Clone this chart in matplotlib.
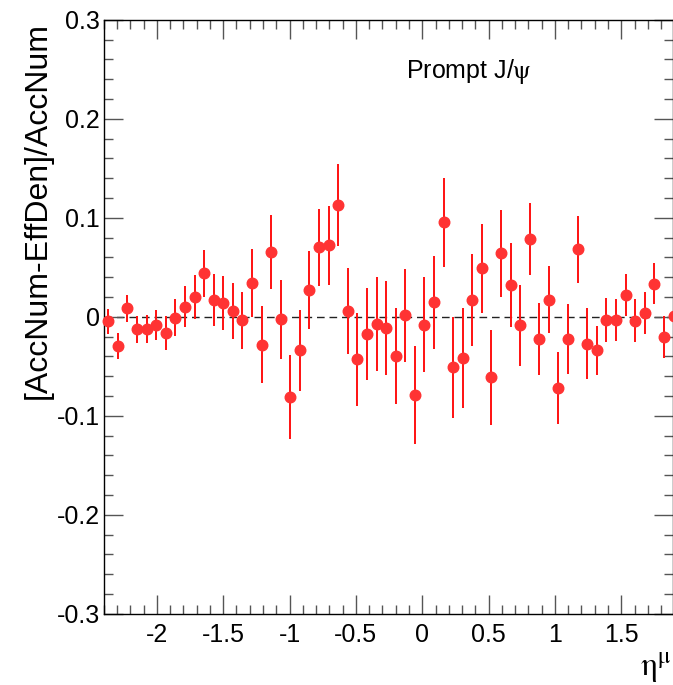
import matplotlib
matplotlib.use('Agg')
import matplotlib.pyplot as plt
from matplotlib.ticker import MultipleLocator, FuncFormatter

plt.rcParams['font.family'] = ['Liberation Sans', 'DejaVu Sans']
plt.rcParams['mathtext.fontset'] = 'stix'
plt.rcParams['axes.unicode_minus'] = False

# eta bin centres
eta = [-2.366, -2.294, -2.222, -2.149, -2.077, -2.005, -1.933, -1.861, -1.788, -1.716,
       -1.644, -1.572, -1.500, -1.427, -1.355, -1.283, -1.211, -1.139, -1.066, -0.994,
       -0.922, -0.850, -0.778, -0.705, -0.633, -0.561, -0.489, -0.417, -0.344, -0.272,
       -0.200, -0.128, -0.056, 0.017, 0.089, 0.161, 0.233, 0.305, 0.378, 0.450,
       0.522, 0.594, 0.666, 0.739, 0.811, 0.883, 0.955, 1.027, 1.100, 1.172,
       1.244, 1.316, 1.388, 1.461, 1.533, 1.605, 1.677, 1.749, 1.822, 1.894]

# [AccNum-EffDen]/AccNum
ratio = [-0.0044, -0.0296, 0.0084, -0.0128, -0.0125, -0.0084, -0.0165, -0.0010, 0.0101, 0.0199,
         0.0438, 0.0168, 0.0141, 0.0057, -0.0037, 0.0343, -0.0283, 0.0653, -0.0027, -0.0811,
         -0.0340, 0.0269, 0.0700, 0.0720, 0.1128, 0.0057, -0.0431, -0.0175, -0.0074, -0.0114,
         -0.0397, 0.0013, -0.0791, -0.0081, 0.0145, 0.0953, -0.0512, -0.0421, 0.0172, 0.0488,
         -0.0613, 0.0640, 0.0317, -0.0088, 0.0788, -0.0226, 0.0172, -0.0720, -0.0222, 0.0680,
         -0.0273, -0.0340, -0.0034, -0.0034, 0.0222, -0.0040, 0.0034, 0.0333, -0.0205, 0.0010]

ratio_err = [0.0126, 0.0135, 0.0133, 0.0136, 0.0145, 0.0153, 0.0168, 0.0189, 0.0209, 0.0227,
             0.0236, 0.0261, 0.0273, 0.0283, 0.0291, 0.0343, 0.0390, 0.0370, 0.0396, 0.0420,
             0.0407, 0.0390, 0.0389, 0.0400, 0.0416, 0.0436, 0.0470, 0.0463, 0.0470, 0.0478,
             0.0487, 0.0466, 0.0493, 0.0480, 0.0471, 0.0450, 0.0508, 0.0505, 0.0466, 0.0451,
             0.0480, 0.0441, 0.0424, 0.0409, 0.0365, 0.0360, 0.0340, 0.0360, 0.0352, 0.0335,
             0.0357, 0.0246, 0.0220, 0.0215, 0.0210, 0.0215, 0.0212, 0.0209, 0.0214, 0.0210]

W, H = 673, 685
fig = plt.figure(figsize=(W / 100, H / 100), dpi=100)
ax = fig.add_axes([103.8 / W, 1 - 613.7 / H, (673 - 103.8) / W, (613.7 - 19.7) / H])

ax.set_xlim(-2.4, 1.89)
ax.set_ylim(-0.3, 0.3)

ax.axhline(0, color='#222222', lw=1.0, ls=(0, (5.5, 3.5)), zorder=1)

ax.errorbar(eta, ratio, yerr=ratio_err, fmt='o', color='#ff3333', ms=7.6,
            mec='#ff3333', ecolor='#ff1010', elinewidth=1.4, capsize=0,
            clip_on=False, zorder=3)

ax.xaxis.set_major_locator(MultipleLocator(0.5))
ax.xaxis.set_minor_locator(MultipleLocator(0.1))
ax.yaxis.set_major_locator(MultipleLocator(0.1))
ax.yaxis.set_minor_locator(MultipleLocator(0.02))
fmt = FuncFormatter(lambda v, p: '%g' % round(v, 3) if abs(v) > 1e-9 else '0')
ax.xaxis.set_major_formatter(fmt)
ax.yaxis.set_major_formatter(fmt)

ax.tick_params(which='both', direction='in', top=True, right=True, color='#555555', width=1.0)
ax.tick_params(which='major', length=13.5)
ax.tick_params(which='minor', length=6.7)
ax.tick_params(axis='x', which='major', labelsize=18, pad=6.5)
ax.tick_params(axis='y', which='major', labelsize=18, pad=3)
for s in ax.spines.values():
    s.set_linewidth(1.0)
    s.set_color('black')

fig.text(38 / W, 1 - 210 / H, '[AccNum-EffDen]/AccNum', rotation=90,
         ha='center', va='center', fontsize=23)
fig.text(640 / W, 1 - 668 / H, r'$\mathrm{\eta}^{\mathrm{\mu}}$', ha='left', va='center', fontsize=24)
ax.text(406 / W, 1 - 72 / H, r'Prompt J/$\mathrm{\psi}$', transform=fig.transFigure,
        ha='left', va='center', fontsize=18)

fig.savefig('out.png', dpi=100, facecolor='white')
